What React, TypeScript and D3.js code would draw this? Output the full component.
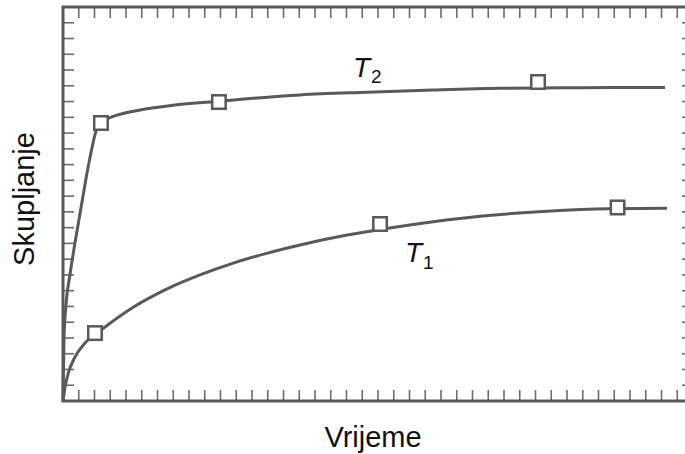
import React from "react";
import * as d3 from "d3";

// Time (x) and shrinkage (y) in grid units; one grid unit = one tick
const t2CurveX = [0, 0.06, 0.19, 0.44, 0.76, 1.12, 1.62, 2.12, 2.41, 2.98, 4.89, 6.98, 9.9, 15.05, 19.3, 23.49, 27.75, 32.83, 38.22];
const t2CurveY = [0, 3.87, 6.09, 8.0, 10.03, 12.12, 14.97, 17.2, 17.72, 17.98, 18.46, 18.76, 19.02, 19.42, 19.59, 19.73, 19.84, 19.88, 19.9];
const t2MarkX = [2.41, 9.9, 30.16];
const t2MarkY = [17.64, 18.97, 20.24];

const t1CurveX = [0, 0.13, 0.34, 0.76, 1.4, 2.35, 4.46, 6.58, 8.7, 10.81, 12.93, 15.05, 17.16, 19.28, 22.24, 26.48, 30.71, 34.73, 38.35];
const t1CurveY = [0, 0.89, 1.78, 2.79, 3.68, 4.45, 5.95, 7.1, 8.0, 8.75, 9.37, 9.9, 10.36, 10.74, 11.2, 11.72, 12.04, 12.2, 12.23];
const t1MarkX = [2.03, 20.13, 35.21];
const t1MarkY = [4.31, 11.23, 12.28];

const xTicks = d3.range(1, 40);
const yTicks = d3.range(1, 25);

const xLabel = "Vrijeme";
const yLabel = "Skupljanje";

const W = 685;
const H = 454;
const GRAY = "#595959";
const FONT = "'Liberation Sans', Arial, Helvetica, sans-serif";

export default function App() {
  const x = d3.scaleLinear().domain([0, 40]).range([63, 693]);
  const y = d3.scaleLinear().domain([0, 25]).range([401, 7]);

  const line = d3
    .line<[number, number]>()
    .x((d) => x(d[0]))
    .y((d) => y(d[1]))
    .curve(d3.curveMonotoneX);

  const t2Path = line(t2CurveX.map((v, i) => [v, t2CurveY[i]] as [number, number])) || "";
  const t1Path = line(t1CurveX.map((v, i) => [v, t1CurveY[i]] as [number, number])) || "";

  const markers = [
    ...t2MarkX.map((v, i) => [v, t2MarkY[i]]),
    ...t1MarkX.map((v, i) => [v, t1MarkY[i]]),
  ];
  const ms = 13.5;
  const tickLen = 11;

  return (
    <svg
      width={W}
      height={H}
      style={{ position: "fixed", left: 0, top: 0, background: "#fff" }}
    >
      <rect x={0} y={0} width={W} height={H} fill="#fff" />
      {/* ticks */}
      <g stroke="#6a6a6a" strokeWidth={1.6}>
        {xTicks.map((t) => (
          <g key={"x" + t}>
            <line x1={x(t)} x2={x(t)} y1={y(0)} y2={y(0) - tickLen} />
            <line x1={x(t)} x2={x(t)} y1={y(25)} y2={y(25) + tickLen} />
          </g>
        ))}
        {yTicks.map((t) => (
          <g key={"y" + t}>
            <line x1={x(0)} x2={x(0) + tickLen} y1={y(t)} y2={y(t)} />
            <line x1={x(40)} x2={x(40) - tickLen} y1={y(t)} y2={y(t)} />
          </g>
        ))}
      </g>
      {/* frame */}
      <rect
        x={x(0)}
        y={y(25)}
        width={x(40) - x(0)}
        height={y(0) - y(25)}
        fill="none"
        stroke={GRAY}
        strokeWidth={3}
      />
      {/* curves */}
      <path d={t2Path} fill="none" stroke={GRAY} strokeWidth={3} />
      <path d={t1Path} fill="none" stroke={GRAY} strokeWidth={3} />
      {/* markers */}
      {markers.map((m, i) => (
        <rect
          key={"m" + i}
          x={x(m[0]) - ms / 2}
          y={y(m[1]) - ms / 2}
          width={ms}
          height={ms}
          fill="#fff"
          stroke={GRAY}
          strokeWidth={2.5}
        />
      ))}
      {/* series labels */}
      <text x={353} y={77} fontFamily={FONT} fontSize={28} fill="#111">
        <tspan fontStyle="italic">T</tspan>
        <tspan fontSize={19} dx={1} dy={6}>2</tspan>
      </text>
      <text x={405} y={262} fontFamily={FONT} fontSize={28} fill="#111">
        <tspan fontStyle="italic">T</tspan>
        <tspan fontSize={19} dx={1} dy={7}>1</tspan>
      </text>
      {/* axis titles */}
      <text
        x={373}
        y={447}
        textAnchor="middle"
        fontFamily={FONT}
        fontSize={29}
        fill="#111"
      >
        {xLabel}
      </text>
      <text
        transform="translate(34,199) rotate(-90)"
        textAnchor="middle"
        fontFamily={FONT}
        fontSize={29}
        fill="#111"
      >
        {yLabel}
      </text>
    </svg>
  );
}
